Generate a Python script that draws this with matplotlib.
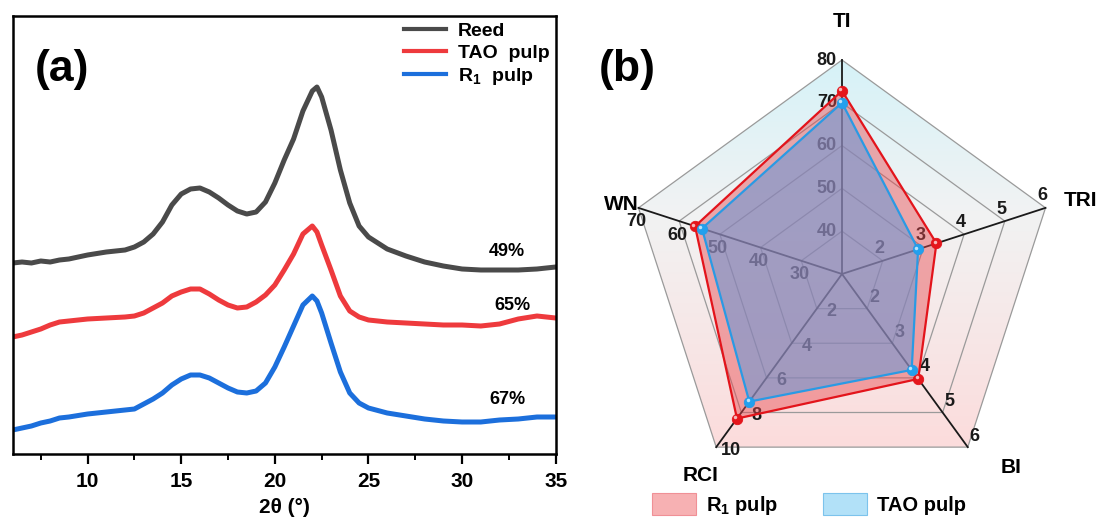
import numpy as np
import matplotlib.pyplot as plt
from matplotlib.patches import Polygon, Patch
from matplotlib.colors import to_rgb

plt.rcParams['font.family'] = ['Liberation Sans', 'DejaVu Sans']
plt.rcParams['font.weight'] = 'bold'
plt.rcParams['axes.labelweight'] = 'bold'
plt.rcParams['mathtext.fontset'] = 'custom'
plt.rcParams['mathtext.rm'] = 'Liberation Sans:bold'
plt.rcParams['mathtext.it'] = 'Liberation Sans:bold'
plt.rcParams['mathtext.bf'] = 'Liberation Sans:bold'

# ---- (a) XRD patterns, stacked (a.u.) ----
two_theta = [6.0, 6.5, 7.0, 7.5, 8.0, 8.5, 9.0, 10.0, 11.0, 12.0, 12.5, 13.0, 13.5,
             14.0, 14.5, 15.0, 15.5, 16.0, 16.5, 17.0, 17.5, 18.0, 18.5, 19.0, 19.5,
             20.0, 20.5, 21.0, 21.5, 22.0, 22.25, 22.5, 23.0, 23.5, 24.0, 24.5, 25.0,
             26.0, 27.0, 28.0, 29.0, 30.0, 31.0, 32.0, 33.0, 34.0, 35.0]
reed = [191, 192, 191, 193, 192, 194, 195, 199, 202, 204, 207, 212, 220,
        232, 249, 260, 265, 266, 262, 256, 249, 243, 240, 242, 252,
        271, 294, 315, 343, 363, 367, 357, 324, 284, 251, 228, 217,
        205, 198, 192, 188, 185, 184, 184, 184, 185, 187]
tao_xrd = [117, 119, 122, 125, 129, 132, 133, 135, 136, 137, 138, 141, 146,
           151, 158, 162, 165, 165, 160, 154, 149, 146, 147, 152, 159,
           169, 184, 200, 220, 228, 222, 209, 184, 158, 143, 137, 134,
           132, 131, 130, 129, 129, 128, 130, 135, 138, 136]
r1_xrd = [24, 26, 28, 31, 33, 36, 37, 40, 42, 44, 45, 50, 55,
          61, 69, 75, 79, 79, 76, 71, 66, 62, 61, 63, 71,
          87, 107, 128, 149, 158, 153, 141, 111, 82, 61, 51, 46,
          41, 38, 35, 33, 32, 32, 34, 35, 37, 37]
xrd_names = ['Reed', 'TAO  pulp', 'R$_1$  pulp']
cri_labels = ['49%', '65%', '67%']
cri_pos = [(32.4, 202), (32.7, 149), (32.4, 54)]

# ---- (b) radar indices ----
radar_axes = ['TI', 'TRI', 'BI', 'RCI', 'WN']
ti_ticks = [40, 50, 60, 70, 80]
tri_ticks = [2, 3, 4, 5, 6]
bi_ticks = [2, 3, 4, 5, 6]
rci_ticks = [2, 4, 6, 8, 10]
wn_ticks = [30, 40, 50, 60, 70]
r1_pulp = [72.8, 3.32, 4.03, 8.35, 56.1]
tao_pulp = [70.0, 2.87, 3.77, 7.37, 54.4]

fig = plt.figure(figsize=(11.02, 5.18), dpi=100)

ax1 = fig.add_axes([12.7 / 1102, 64 / 518, 543 / 1102, 438 / 518])
colors = ['#4a4a4a', '#ee3a3d', '#1c6fdc']
for ys, c, name in zip([reed, tao_xrd, r1_xrd], colors, xrd_names):
    ax1.plot(two_theta, ys, color=c, lw=3.6, label=name, solid_joinstyle='round')
for lab, (x, y) in zip(cri_labels, cri_pos):
    ax1.text(x, y, lab, fontsize=13, ha='center', va='center')
ax1.set_xlim(6, 35)
ax1.set_ylim(0, 438)
ax1.set_yticks([])
ax1.set_xticks([10, 15, 20, 25, 30, 35])
ax1.set_xticks([7.5, 12.5, 17.5, 22.5, 27.5, 32.5], minor=True)
ax1.tick_params(axis='x', which='major', length=7, width=1.6, labelsize=15, pad=6)
ax1.tick_params(axis='x', which='minor', length=4, width=1.4)
for s in ax1.spines.values():
    s.set_linewidth(1.8)
ax1.set_xlabel('2θ (°)', fontsize=15, labelpad=5)
leg = ax1.legend(loc='upper left', bbox_to_anchor=(0.72, 0.985), frameon=False,
                 fontsize=14, handlelength=2.2, handletextpad=0.6,
                 labelspacing=0.2, borderpad=0, borderaxespad=0)
for h in leg.get_lines():
    h.set_linewidth(3)
fig.text(62 / 1102, 1 - 70 / 518, '(a)', fontsize=32, ha='center', va='center')
fig.text(627 / 1102, 1 - 70 / 518, '(b)', fontsize=32, ha='center', va='center')

# radar panel: one data unit = outer ring radius (214 px)
ax2 = fig.add_axes([600 / 1102, 0, 502 / 1102, 1])
ax2.set_xlim(-1.1308, 1.2150)
ax2.set_ylim(-1.1402, 1.2804)
ax2.axis('off')

angles = np.deg2rad([90, 18, -54, -126, 162])
ticks_all = [ti_ticks, tri_ticks, bi_ticks, rci_ticks, wn_ticks]
n_rings = 5


def to_xy(values):
    pts = []
    for v, t, a in zip(values, ticks_all, angles):
        lo = t[0] - (t[1] - t[0])
        r = (v - lo) / (t[-1] - lo)
        pts.append((r * np.cos(a), r * np.sin(a)))
    return np.array(pts)


outer = np.c_[np.cos(angles), np.sin(angles)]

# background: cyan at top fading to pink at bottom
yy = np.linspace(1.0, -0.85, 200)
stops_y = [1.0, 0.3, -0.81]
stops_c = [to_rgb('#d6f2f8'), to_rgb('#f1f3f3'), to_rgb('#fcdcdc')]
grad = np.zeros((200, 1, 3))
for ch in range(3):
    grad[:, 0, ch] = np.interp(-yy, [-s for s in stops_y], [c[ch] for c in stops_c])
im = ax2.imshow(grad, extent=(-1.0, 1.0, -0.85, 1.0), aspect='auto', zorder=0)
clip = Polygon(outer, closed=True, transform=ax2.transData, facecolor='none')
im.set_clip_path(clip)

for k in range(1, n_rings + 1):
    ring = np.vstack([outer, outer[:1]]) * k / n_rings
    ax2.plot(ring[:, 0], ring[:, 1], color='#9a9a9a', lw=0.9, zorder=1)
for (x, y) in outer:
    ax2.plot([0, x], [0, y], color='#1a1a1a', lw=1.3, zorder=1)

# ring labels, offsets in pixels (right, down)
lab_off = [(-5, 0), (-3, -12), (7, -11), (15, 3), (-2, 14)]
lab_ha = ['right', 'center', 'center', 'center', 'center']
for t, a, (dx, dy), ha in zip(ticks_all, angles, lab_off, lab_ha):
    for k, val in enumerate(t, start=1):
        r = k / n_rings
        ax2.annotate(str(val), (r * np.cos(a), r * np.sin(a)),
                     xytext=(dx * 0.72, -dy * 0.72), textcoords='offset points',
                     ha=ha, va='center', fontsize=13, color='#1a1a1a', zorder=2)

name_pos = [(0.0, 1.18), (1.115, 0.345), (0.79, -0.905), (-0.66, -0.94), (-1.03, 0.325)]
for name, (x, y) in zip(radar_axes, name_pos):
    ax2.text(x, y, name, fontsize=15, ha='center', va='center')

p_r1 = to_xy(r1_pulp)
p_tao = to_xy(tao_pulp)
ax2.add_patch(Polygon(p_r1, closed=True, facecolor='#e8484e', alpha=0.45,
                      edgecolor='none', zorder=3))
ax2.add_patch(Polygon(p_tao, closed=True, facecolor='#6a98d6', alpha=0.58,
                      edgecolor='none', zorder=4))
for pts, ec, mc in [(p_r1, '#e3141b', '#e5161c'), (p_tao, '#2a9ae4', '#22a0ee')]:
    loop = np.vstack([pts, pts[:1]])
    ax2.plot(loop[:, 0], loop[:, 1], color=ec, lw=1.6, zorder=5)
    ax2.plot(pts[:, 0], pts[:, 1], 'o', ms=7.5, color=mc, mec=ec, mew=0.6, zorder=6)
    ax2.plot(pts[:, 0] - 0.008, pts[:, 1] + 0.008, 'o', ms=2.5, color='white',
             alpha=0.7, mec='none', zorder=7)

handles = [Patch(facecolor='#f7b1b3', edgecolor='#f09096', lw=0.8),
           Patch(facecolor='#b2e1f8', edgecolor='#7cc3ec', lw=0.8)]
fig.legend(handles, ['R$_1$ pulp', 'TAO pulp'], loc='upper left', ncol=2,
           bbox_to_anchor=(652 / 1102, 1 - 493 / 518), frameon=False, fontsize=14.5,
           handlelength=2.2, handleheight=1.3, handletextpad=0.5,
           columnspacing=2.2, borderpad=0, borderaxespad=0)

fig.savefig('out.png', dpi=100)
